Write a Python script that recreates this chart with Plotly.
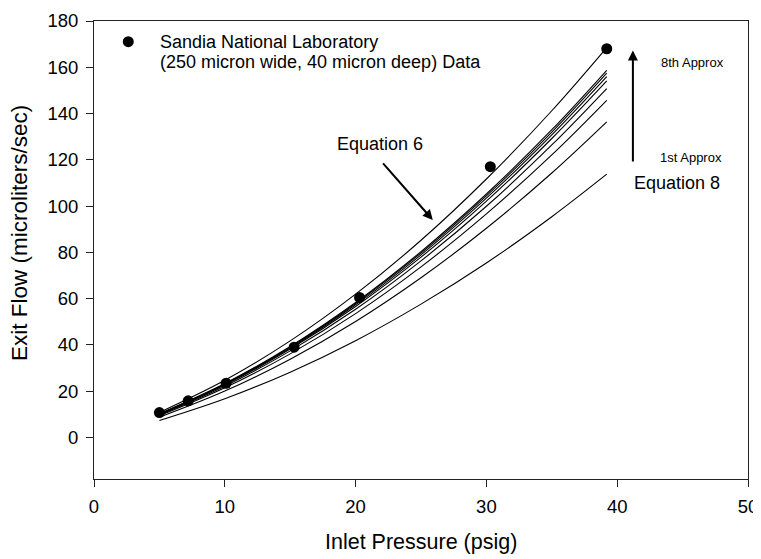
import plotly.graph_objects as go

pressure = [5, 10, 15, 20, 25, 30, 35, 39.2]

# Equation 6 curve (top)
eq6_flow = [10.8, 24.7, 41.7, 61.9, 85.2, 111.7, 141.2, 168.5]

# Equation 8, successive approximations (1st .. 8th)
eq8_flows = [
    [7.3, 16.7, 28.2, 41.8, 57.6, 75.4, 95.4, 113.8],
    [8.7, 20.0, 33.8, 50.1, 69.0, 90.4, 114.3, 136.4],
    [9.3, 21.4, 36.1, 53.5, 73.7, 96.6, 122.1, 145.7],
    [9.7, 22.1, 37.4, 55.4, 76.3, 99.9, 126.4, 150.8],
    [9.9, 22.6, 38.2, 56.6, 77.9, 102.1, 129.2, 154.1],
    [10.0, 22.9, 38.6, 57.3, 78.9, 103.4, 130.8, 156.0],
    [10.1, 23.1, 39.0, 57.9, 79.7, 104.4, 132.0, 157.5],
    [10.2, 23.3, 39.3, 58.3, 80.3, 105.2, 133.0, 158.7],
]

# Sandia measurements
sandia_p = [5.0, 7.2, 10.1, 15.3, 20.3, 30.3, 39.2]
sandia_q = [10.7, 15.8, 23.4, 39.0, 60.5, 117.0, 168.0]

legend_lines = ["Sandia National Laboratory", "(250 micron wide, 40 micron deep) Data"]

FONT = "Liberation Sans, Arial, sans-serif"

fig = go.Figure()

for q in eq8_flows:
    fig.add_trace(go.Scatter(
        x=pressure, y=q, mode="lines", line=dict(color="black", width=1.1, shape="spline"),
        showlegend=False, hoverinfo="skip"))

fig.add_trace(go.Scatter(
    x=pressure, y=eq6_flow, mode="lines", line=dict(color="black", width=1.1, shape="spline"),
    showlegend=False, hoverinfo="skip"))

fig.add_trace(go.Scatter(
    x=sandia_p, y=sandia_q, mode="markers",
    marker=dict(color="black", size=11), showlegend=False,
    name="<br>".join(legend_lines)))

# hand-made legend (SigmaPlot style: tight line spacing)
fig.add_shape(type="circle", xref="paper", yref="paper", xsizemode="pixel", ysizemode="pixel",
              xanchor=0.0524, yanchor=0.9548, x0=-5.5, x1=5.5, y0=-5.5, y1=5.5,
              fillcolor="black", line=dict(color="black", width=0))
for i, txt in enumerate(legend_lines):
    fig.add_annotation(xref="paper", yref="paper", x=0.0983, y=0.9548 - i * 0.0436,
                       xanchor="left", yanchor="middle", text=txt, showarrow=False,
                       font=dict(size=18, color="black"))

# labels and arrows
fig.add_annotation(x=21.9, y=126.9, text="Equation 6", showarrow=False,
                   font=dict(size=18, color="black"))
fig.add_annotation(x=25.9, y=94.0, ax=22.0, ay=119.1, xref="x", yref="y", axref="x", ayref="y",
                   text="", showarrow=True, arrowhead=2, arrowsize=1, arrowwidth=2, arrowcolor="black")
fig.add_annotation(x=41.2, y=167.3, ax=41.2, ay=118.6, xref="x", yref="y", axref="x", ayref="y",
                   text="", showarrow=True, arrowhead=2, arrowsize=1, arrowwidth=2, arrowcolor="black")
fig.add_annotation(x=45.76, y=162.1, text="8th Approx", showarrow=False, font=dict(size=13, color="black"))
fig.add_annotation(x=45.63, y=121.1, text="1st Approx", showarrow=False, font=dict(size=13, color="black"))
fig.add_annotation(x=44.55, y=109.9, text="Equation 8", showarrow=False, font=dict(size=18, color="black"))

# axis titles
fig.add_annotation(xref="paper", yref="paper", x=0.5, y=-0.137, text="Inlet Pressure (psig)",
                   showarrow=False, xanchor="center", yanchor="middle", font=dict(size=21.5, color="black"))
fig.add_annotation(xref="paper", yref="paper", x=-0.114, y=0.538, text="Exit Flow (microliters/sec)",
                   showarrow=False, xanchor="center", yanchor="middle", textangle=-90,
                   font=dict(size=22.5, color="black"))

axis_common = dict(
    showgrid=False, zeroline=False, showline=True, linecolor="#222", linewidth=1,
    mirror=True, ticks="outside", ticklen=7, tickcolor="#222", automargin=False,
    ticklabelstandoff=4, tickfont=dict(size=18.5, color="black"),
)

fig.update_xaxes(range=[0, 50], dtick=10, **axis_common)
fig.update_yaxes(range=[-18, 180], tick0=0, dtick=20, **axis_common)

# page body adds an 8px margin, so the figure is 8px smaller than the window
fig.update_layout(
    width=753, height=551,
    margin=dict(l=86, r=13, t=13, b=80),
    paper_bgcolor="white", plot_bgcolor="white",
    font=dict(family=FONT, color="black"),
    showlegend=False,
)

fig.write_html("out.html")
